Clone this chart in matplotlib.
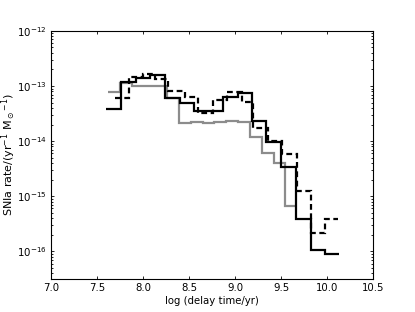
import numpy as np
import matplotlib
matplotlib.use('Agg')
import matplotlib.pyplot as plt

# bin edges in log(delay time/yr) and rates (yr^-1 Msun^-1)
black_edges = [7.60, 7.76, 7.92, 8.08, 8.24, 8.40, 8.55, 8.71, 8.87,
               9.03, 9.18, 9.34, 9.50, 9.66, 9.82, 9.98, 10.13]
black_rate = [3.9e-14, 1.17e-13, 1.4e-13, 1.58e-13, 6.0e-14, 4.9e-14, 3.5e-14, 3.5e-14,
              6.4e-14, 7.4e-14, 2.3e-14, 9.7e-15, 3.4e-15, 3.9e-16, 1.07e-16, 9.1e-17]

gray_edges = [7.62, 7.75, 7.88, 8.00, 8.13, 8.26, 8.39, 8.52, 8.65,
              8.77, 8.90, 9.03, 9.16, 9.29, 9.42, 9.54, 9.67]
gray_rate = [7.9e-14, 1.15e-13, 1.0e-13, 1.0e-13, 1.0e-13, 6.0e-14, 2.15e-14, 2.2e-14,
             2.1e-14, 2.2e-14, 2.3e-14, 2.25e-14, 1.17e-14, 6.1e-15, 4.0e-15, 6.6e-16]

dash_edges = [7.70, 7.85, 8.00, 8.13, 8.27, 8.46, 8.60, 8.76, 8.91,
              9.08, 9.20, 9.36, 9.51, 9.67, 9.83, 9.98, 10.12]
dash_rate = [6.0e-14, 1.45e-13, 1.65e-13, 1.35e-13, 8.2e-14, 6.2e-14, 3.2e-14, 5.6e-14,
             7.9e-14, 5.2e-14, 1.7e-14, 1.0e-14, 5.8e-15, 1.25e-15, 2.15e-16, 3.9e-16]

xticks = [7.0, 7.5, 8.0, 8.5, 9.0, 9.5, 10.0, 10.5]

plt.rcParams['font.size'] = 7.3
plt.rcParams['xtick.direction'] = 'in'
plt.rcParams['ytick.direction'] = 'in'

fig = plt.figure(figsize=(4.15, 3.12), dpi=100)
ax = fig.add_axes([0.123, 0.106, 0.776, 0.795])

ax.stairs(gray_rate, gray_edges, baseline=None, color='0.55', lw=1.6)
ax.stairs(black_rate, black_edges, baseline=None, color='k', lw=1.6)
ax.stairs(dash_rate, dash_edges, baseline=None, color='k', lw=1.6,
          linestyle=(0, (2.6, 1.6)))

ax.set_yscale('log')
ax.set_xlim(7.0, 10.5)
ax.set_ylim(10**-16.5, 1e-12)
ax.set_xticks(xticks)
ax.set_xticklabels(['%.1f' % t for t in xticks])
ax.set_yticks([1e-16, 1e-15, 1e-14, 1e-13, 1e-12])
ax.tick_params(axis='y', labelsize=7.4)

ax.tick_params(which='both', top=True, right=True, width=0.6)
ax.tick_params(which='major', length=2.2, pad=3)
ax.tick_params(which='minor', length=1.1)
for s in ax.spines.values():
    s.set_linewidth(0.8)

ax.set_xlabel('log (delay time/yr)', labelpad=2)
ax.set_ylabel(r'SNIa rate/(yr$^{-1}$ M$_\odot$$^{-1}$)', fontsize=8.0)
ax.yaxis.set_label_coords(-0.104, 0.5)

fig.savefig('out.png', dpi=100)
